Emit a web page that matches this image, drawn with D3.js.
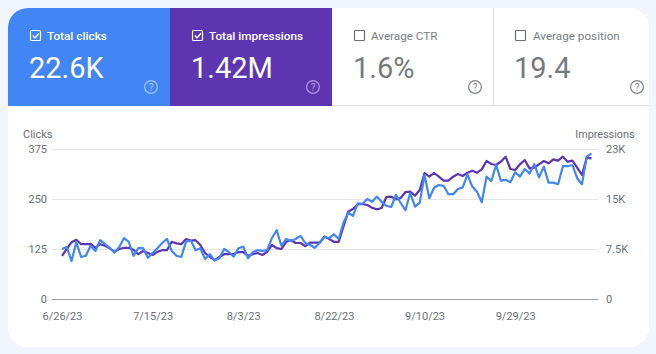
<!DOCTYPE html>
<html>
<head>
<meta charset="utf-8">
<script src="https://cdn.jsdelivr.net/npm/d3@7"></script>
<style>
    html, body { margin: 0; padding: 0; background: #f1f5fd; }
    svg { display: block; font-family: Roboto, sans-serif; }
</style>
</head>
<body>
<div id="main"></div>
<script>
const clicks = [
    125, 130, 95, 142, 105, 108, 133, 120, 147, 137, 128, 116, 130, 152, 143, 108, 127, 127, 103, 115,
    127, 140, 150, 120, 108, 105, 143, 146, 122, 127, 100, 112, 96, 102, 125, 117, 106, 127, 131, 102,
    117, 122, 120, 122, 152, 172, 133, 150, 145, 150, 158, 140, 135, 128, 140, 155, 152, 162, 150, 190,
    216, 208, 239, 238, 250, 243, 256, 243, 233, 230, 260, 240, 222, 265, 231, 241, 310, 252, 278, 285,
    283, 262, 262, 275, 279, 311, 281, 268, 242, 306, 295, 335, 296, 298, 292, 317, 306, 325, 314, 337,
    304, 331, 291, 291, 287, 332, 332, 335, 302, 287, 356, 364
];
const impressions = [
    6480, 7500, 8520, 8880, 8220, 8220, 8280, 7680, 8220, 7980, 7620, 7080, 7500, 7680, 7680, 7380, 6720, 7200, 6900, 6600,
    7080, 7320, 7320, 8580, 8340, 8220, 9000, 8760, 8820, 8100, 6900, 6300, 5820, 6300, 6720, 6720, 6780, 7020, 7020, 6480,
    6720, 6900, 6600, 7080, 8100, 7620, 7500, 8580, 8820, 8400, 8400, 7920, 8460, 8460, 8460, 9360, 9000, 8580, 8580, 10860,
    13100, 13500, 14200, 14250, 14100, 13700, 13450, 13650, 15300, 15350, 14950, 15150, 16050, 16100, 15500, 16350, 18900, 18350, 18900, 18350,
    17750, 17750, 18350, 18750, 18450, 18950, 19250, 18950, 19450, 20700, 20250, 20100, 20600, 21350, 19500, 19350, 20200, 20850, 19600, 19700,
    20200, 20700, 20350, 20950, 20750, 21350, 20600, 20750, 19700, 18600, 21200, 21100
];
const clickTicks = [0, 125, 250, 375];
const impressionTicks = [0, 7500, 15000, 22500];
const impressionLabels = ["0", "7.5K", "15K", "23K"];
const dateTicks = ["6/26/23", "7/15/23", "8/3/23", "8/22/23", "9/10/23", "9/29/23"];

const tileLabels = ["Total clicks", "Total impressions", "Average CTR", "Average position"];
const tileValues = ["22.6K", "1.42M", "1.6%", "19.4"];
const tileChecked = [true, true, false, false];

const ctx = {
    W: 656,
    H: 354,
    BLUE: "#4285f4",
    PURPLE: "#5e35b1",
    GREY: "#6b6f74",
};

const parseDate = d3.timeParse("%m/%d/%y");
const startDay = parseDate(dateTicks[0]);
const dates = clicks.map((d, i) => d3.timeDay.offset(startDay, i));

function drawTiles(svg) {
    const tileX = [8, 170, 332, 493, 649];
    const fills = [ctx.BLUE, ctx.PURPLE, "#fff", "#fff"];

    svg.append("clipPath").attr("id", "card-clip")
        .append("rect")
        .attr("x", 8).attr("y", 8)
        .attr("width", 641).attr("height", 339)
        .attr("rx", 20);

    svg.append("rect")
        .attr("x", 8).attr("y", 8)
        .attr("width", 641).attr("height", 339)
        .attr("rx", 20)
        .style("fill", "#fff");

    const tiles = svg.append("g").attr("clip-path", "url(#card-clip)")
        .selectAll("g")
        .data(tileLabels)
        .enter().append("g")
        .attr("transform", (d, i) => `translate(${tileX[i]},8)`);

    tiles.append("rect")
        .attr("width", (d, i) => tileX[i + 1] - tileX[i])
        .attr("height", 98)
        .style("fill", (d, i) => fills[i]);

    // checkbox
    tiles.append("rect")
        .attr("x", 22.5)
        .attr("y", 22.5)
        .attr("width", 10)
        .attr("height", 10)
        .attr("rx", 1)
        .style("fill", "none")
        .style("stroke", (d, i) => tileChecked[i] ? "#fff" : ctx.GREY)
        .style("stroke-width", 1.2);

    tiles.filter((d, i) => tileChecked[i]).append("path")
        .attr("d", "M24.8 27.6l2.2 2.3l4-4.6")
        .style("fill", "none")
        .style("stroke", "#fff")
        .style("stroke-width", 1.4);

    tiles.append("text")
        .attr("x", (d, i) => i === 3 ? 40 : 39)
        .attr("y", 31.5)
        .style("font-size", (d, i) => tileChecked[i] ? "11.8px" : "11.7px")
        .style("font-weight", (d, i) => tileChecked[i] ? 500 : 400)
        .style("fill", (d, i) => tileChecked[i] ? "#fff" : "#7a7e83")
        .text(d => d);

    tiles.append("text")
        .attr("x", 21)
        .attr("y", 70)
        .style("font-size", "29px")
        .style("fill", (d, i) => tileChecked[i] ? "#fff" : "#75797e")
        .text((d, i) => tileValues[i]);

    // help icons
    const help = tiles.append("g")
        .attr("transform", (d, i) => `translate(${[143, 143, 143, 144][i]},79)`)
        .style("opacity", (d, i) => tileChecked[i] ? 0.5 : 0.85);

    help.append("circle")
        .attr("r", 6.4)
        .style("fill", "none")
        .style("stroke", (d, i) => tileChecked[i] ? "#fff" : ctx.GREY)
        .style("stroke-width", 1.2);

    help.append("text")
        .attr("y", 3.6)
        .attr("text-anchor", "middle")
        .style("font-size", "10px")
        .style("fill", (d, i) => tileChecked[i] ? "#fff" : ctx.GREY)
        .text("?");

    svg.append("line")
        .attr("x1", 332).attr("x2", 649)
        .attr("y1", 105.5).attr("y2", 105.5)
        .style("stroke", "#e0e0e0");
    svg.append("line")
        .attr("x1", 493.5).attr("x2", 493.5)
        .attr("y1", 8).attr("y2", 105)
        .style("stroke", "#e0e0e0");
}

function drawChart(svg) {
    const x = d3.scaleTime()
        .domain([startDay, dates[dates.length - 1]])
        .range([62, 591.5]);
    const yClicks = d3.scaleLinear().domain([0, 375]).range([299, 149]);
    const yImpr = d3.scaleLinear().domain([0, 22500]).range([299, 149]);

    const gridLeft = 52;
    const gridRight = 598;

    // gridlines come from the left axis
    const leftAxis = svg.append("g")
        .attr("transform", `translate(${gridLeft},0)`)
        .call(d3.axisLeft(yClicks).tickValues(clickTicks).tickSize(-(gridRight - gridLeft)).tickPadding(5));
    leftAxis.select(".domain").remove();
    leftAxis.selectAll("line")
        .style("stroke", d => d === 0 ? "#9e9e9e" : "#e6e6e6");

    const rightAxis = svg.append("g")
        .attr("transform", `translate(${gridRight},0)`)
        .call(d3.axisRight(yImpr).tickValues(impressionTicks).tickSize(0).tickPadding(8)
            .tickFormat((d, i) => impressionLabels[i]));
    rightAxis.select(".domain").remove();

    const bottomAxis = svg.append("g")
        .attr("transform", "translate(0,299)")
        .call(d3.axisBottom(x).tickValues(dateTicks.map(parseDate)).tickSize(0).tickPadding(13)
            .tickFormat((d, i) => dateTicks[i]));
    bottomAxis.select(".domain").remove();

    svg.selectAll("g.tick text")
        .style("font-family", "Roboto, sans-serif")
        .style("font-size", "11px")
        .style("fill", ctx.GREY);

    svg.append("text")
        .attr("x", 23).attr("y", 138)
        .style("font-size", "11px")
        .style("fill", ctx.GREY)
        .text("Clicks");
    svg.append("text")
        .attr("x", 634.5).attr("y", 138)
        .attr("text-anchor", "end")
        .style("font-size", "10.8px")
        .style("fill", ctx.GREY)
        .text("Impressions");

    const imprLine = d3.line()
        .x((d, i) => x(dates[i]))
        .y(d => yImpr(d));
    const clickLine = d3.line()
        .x((d, i) => x(dates[i]))
        .y(d => yClicks(d));

    svg.append("path").datum(impressions)
        .attr("d", imprLine)
        .style("fill", "none")
        .style("stroke", ctx.PURPLE)
        .style("stroke-width", 2.2)
        .style("stroke-linejoin", "round");
    svg.append("path").datum(clicks)
        .attr("d", clickLine)
        .style("fill", "none")
        .style("stroke", ctx.BLUE)
        .style("stroke-width", 2.2)
        .style("stroke-linejoin", "round");
}

function createViz() {
    const svg = d3.select("#main").append("svg")
        .attr("width", ctx.W)
        .attr("height", ctx.H);
    drawTiles(svg);
    drawChart(svg);
}

createViz();
</script>
</body>
</html>
